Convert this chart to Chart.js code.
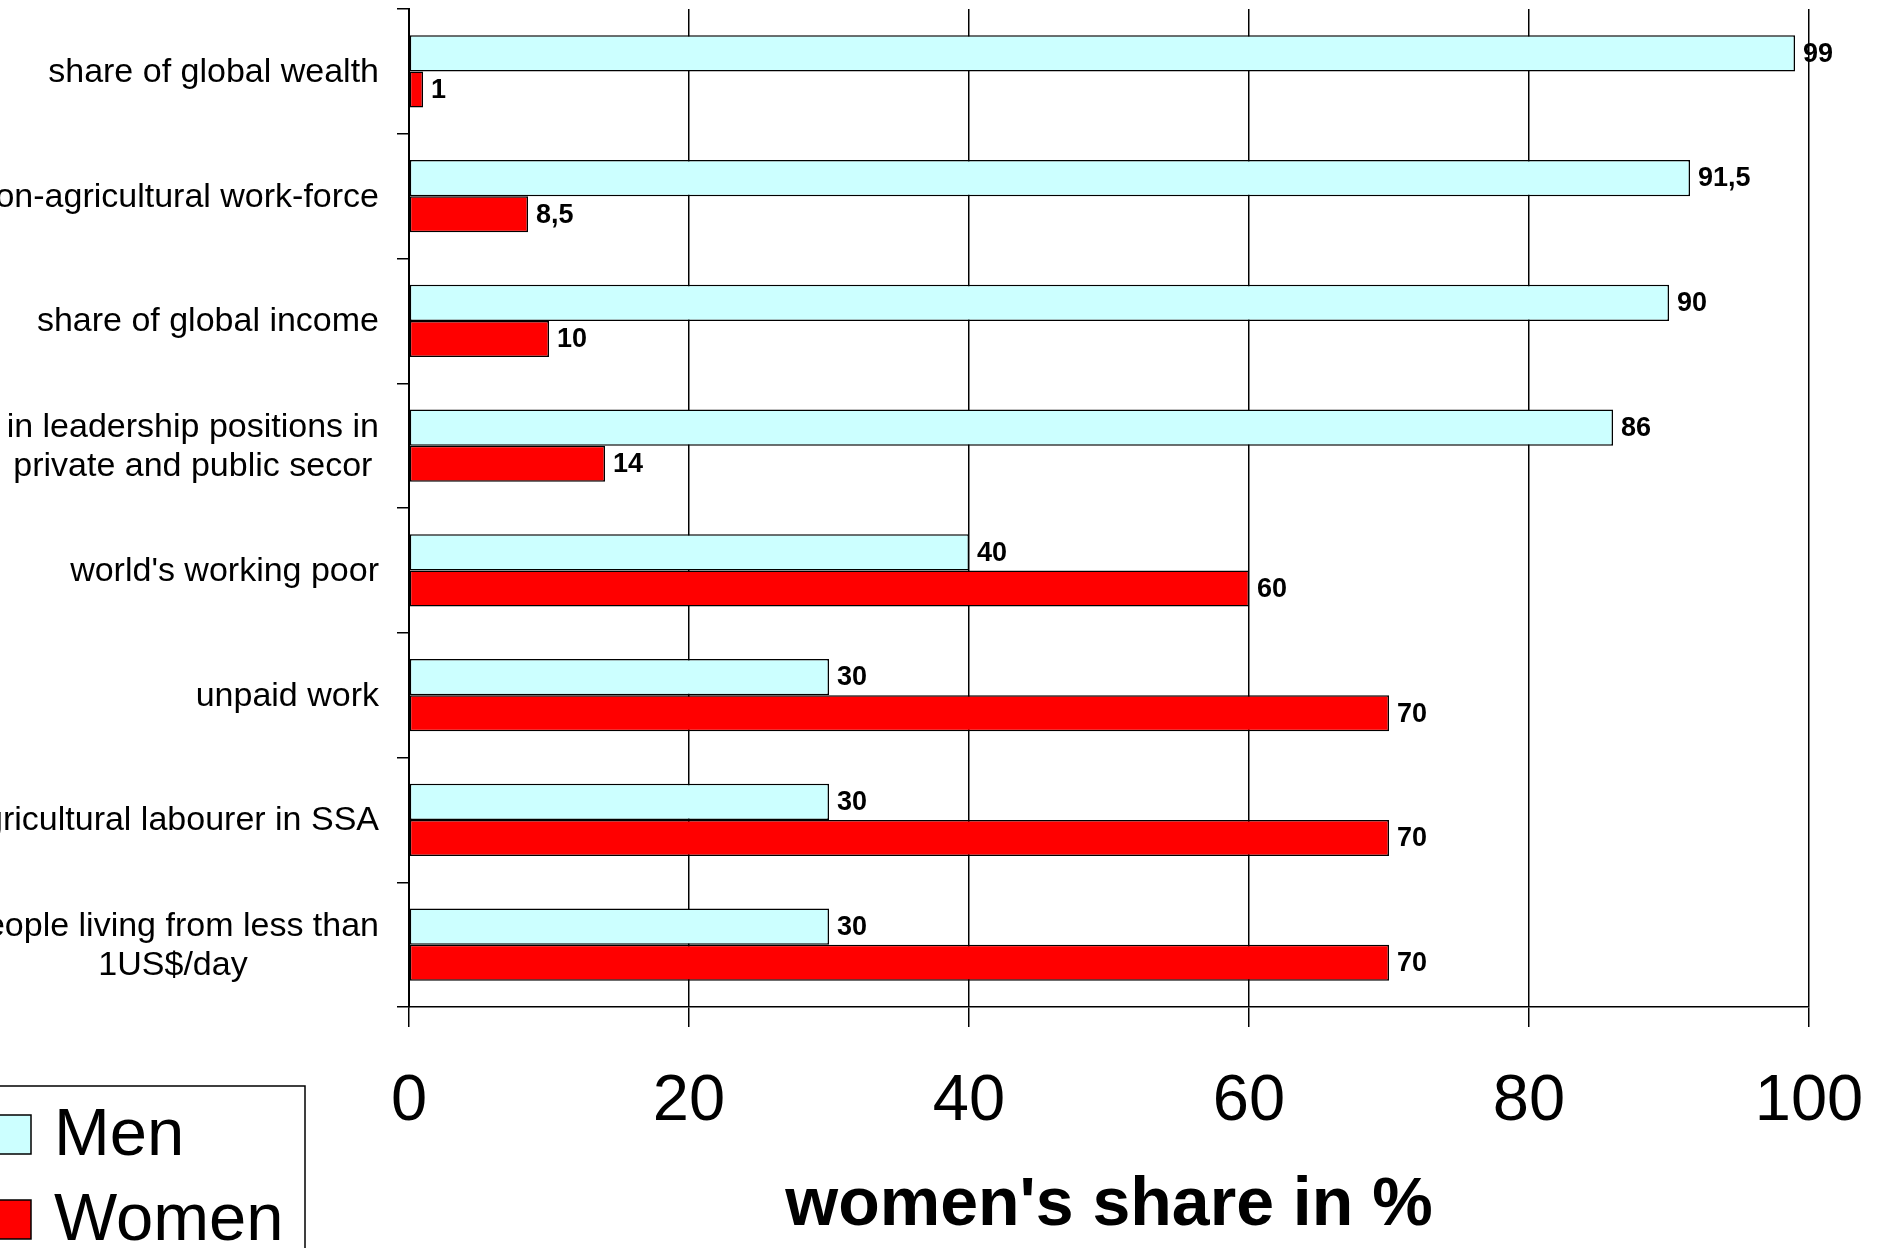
<!DOCTYPE html>
<html>
<head>
<meta charset="utf-8">
<script src="https://cdn.jsdelivr.net/npm/chart.js@4"></script>
<style>
  body { margin: 0; background: #fff; }
  canvas { display: block; }
</style>
</head>
<body>
<canvas id="shareChart" width="1878" height="1248"></canvas>
<script>
const categories = [
    'share of global wealth',
    'non-agricultural work-force',
    'share of global income',
    ['in leadership positions in', 'private and public secor'],
    "world's working poor",
    'unpaid work',
    'agricultural labourer in SSA',
    ['people living from less than', '1US$/day']
];
const menValues = [99, 91.5, 90, 86, 40, 30, 30, 30];
const womenValues = [1, 8.5, 10, 14, 60, 70, 70, 70];
const xTicks = [0, 20, 40, 60, 80, 100];

const FONT = '"Liberation Sans", Arial, sans-serif';

function formatValue(v) {
    return String(v).replace('.', ',');
}

// category labels: block right-aligned, lines centred inside the block
const categoryLabels = {
    id: 'categoryLabels',
    afterDraw(chart) {
        const ctx = chart.ctx;
        const y = chart.scales.y;
        const right = 379;
        const lineH = 39;
        ctx.save();
        ctx.font = '34px ' + FONT;
        ctx.fillStyle = '#000';
        ctx.textAlign = 'center';
        ctx.textBaseline = 'middle';
        chart.data.labels.forEach((label, i) => {
            const lines = Array.isArray(label) ? label : [label];
            const w = Math.max(...lines.map(l => ctx.measureText(l).width));
            const cx = right - w / 2;
            const cy = y.getPixelForTick(i);
            lines.forEach((line, j) => {
                ctx.fillText(line, cx, cy + 1 + (j - (lines.length - 1) / 2) * lineH);
            });
        });
        ctx.restore();
    }
};

const valueLabels = {
    id: 'valueLabels',
    afterDatasetsDraw(chart) {
        const ctx = chart.ctx;
        ctx.save();
        ctx.font = 'bold 27px ' + FONT;
        ctx.fillStyle = '#000';
        ctx.textAlign = 'left';
        ctx.textBaseline = 'middle';
        chart.data.datasets.forEach((ds, di) => {
            chart.getDatasetMeta(di).data.forEach((bar, i) => {
                ctx.fillText(formatValue(ds.data[i]), bar.x + 8, bar.y + 1);
            });
        });
        ctx.restore();
    }
};

const boxLegend = {
    id: 'boxLegend',
    afterDraw(chart) {
        const ctx = chart.ctx;
        ctx.save();
        ctx.strokeStyle = '#000';
        ctx.lineWidth = 1.5;
        ctx.strokeRect(-10, 1086, 315, 200);
        ctx.font = '67px ' + FONT;
        ctx.textBaseline = 'middle';
        ctx.textAlign = 'left';
        const rows = [1135, 1220];
        chart.data.datasets.forEach((ds, i) => {
            ctx.fillStyle = ds.backgroundColor;
            ctx.fillRect(-8, rows[i] - 20, 39, 39);
            ctx.strokeRect(-8, rows[i] - 20, 39, 39);
            ctx.fillStyle = '#000';
            ctx.fillText(ds.label, 54, rows[i] + 2);
        });
        ctx.restore();
    }
};

new Chart(document.getElementById('shareChart'), {
    type: 'bar',
    data: {
        labels: categories,
        datasets: [
            {
                label: 'Men',
                data: menValues,
                backgroundColor: '#CCFFFF',
                borderColor: '#000',
                borderWidth: 1.5,
                borderSkipped: false,
                categoryPercentage: 0.58,
                barPercentage: 1
            },
            {
                label: 'Women',
                data: womenValues,
                backgroundColor: '#FF0000',
                borderColor: '#000',
                borderWidth: 1.5,
                borderSkipped: false,
                categoryPercentage: 0.58,
                barPercentage: 1
            }
        ]
    },
    options: {
        indexAxis: 'y',
        responsive: false,
        animation: false,
        devicePixelRatio: 1,
        layout: { padding: { top: 9, right: 69, bottom: 0, left: 0 } },
        plugins: {
            legend: { display: false },
            tooltip: { enabled: false }
        },
        scales: {
            x: {
                min: 0,
                max: 100,
                afterBuildTicks(scale) {
                    scale.ticks = xTicks.map(v => ({ value: v }));
                },
                afterFit(scale) {
                    scale.height = 241;
                    scale.paddingLeft = 0;
                    scale.paddingRight = 0;
                },
                grid: {
                    color: '#000',
                    lineWidth: 1.5,
                    drawTicks: true,
                    tickLength: 20
                },
                border: { color: '#000', width: 1.5 },
                ticks: {
                    color: '#000',
                    padding: 36,
                    font: { family: FONT, size: 65 }
                },
                title: {
                    display: true,
                    text: "women's share in %",
                    color: '#000',
                    padding: { top: 0, bottom: 1 },
                    font: { family: FONT, size: 68, weight: 'bold' }
                }
            },
            y: {
                afterFit(scale) {
                    scale.width = 409;
                    scale.paddingTop = 0;
                    scale.paddingBottom = 0;
                },
                grid: {
                    drawOnChartArea: false,
                    drawTicks: true,
                    tickLength: 12,
                    color: '#000',
                    lineWidth: 1.5
                },
                border: { color: '#000', width: 2 },
                ticks: { display: false }
            }
        }
    },
    plugins: [categoryLabels, valueLabels, boxLegend]
});
</script>
</body>
</html>
